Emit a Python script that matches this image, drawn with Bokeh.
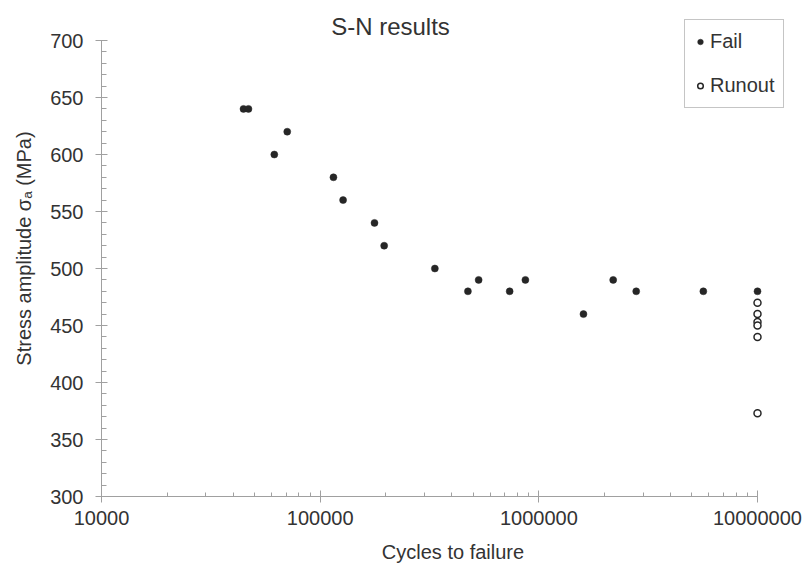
from bokeh.embed import file_html
from bokeh.models import (FixedTicker, Label, Legend, LegendItem,
                          PrintfTickFormatter, Range1d, Title)
from bokeh.plotting import figure
from bokeh.resources import INLINE

# S-N test data: cycles to failure and stress amplitude (MPa)
fail_cycles = [44600, 47000, 61700, 70700, 115000, 127300, 177200, 196200,
               334600, 473900, 530500, 735500, 868000, 1600000, 2188000,
               2788000, 5653000, 10000000]
fail_stress = [640, 640, 600, 620, 580, 560, 540, 520,
               500, 480, 490, 480, 490, 460, 490,
               480, 480, 480]

runout_cycles = [10000000, 10000000, 10000000, 10000000, 10000000, 10000000]
runout_stress = [470, 460, 453, 450, 440, 373]

x_major = [10000, 100000, 1000000, 10000000]
y_major = [300, 350, 400, 450, 500, 550, 600, 650, 700]

FONT = "Liberation Sans"
TEXT = "#333333"
AXIS = "#a0a0a0"
INK = "#262626"

W, H = 804, 564
LEFT, BOTTOM = 101, 68          # space for the axes
X_END_PX, Y_TOP_PX = 757, 40    # where 1e7 and 700 sit on the canvas

x_minor = [m * d for d in x_major[:-1] for m in range(2, 10)]
y_minor = list(range(300, 701, 10))

# The plotting frame runs to the top and right canvas edges so that the title,
# legend and edge markers are not clipped; the axes are bounded to the data span.
px_per_decade = (X_END_PX - LEFT) / 3.0
x_hi = 1e7 * 10 ** ((W - X_END_PX) / px_per_decade)
px_per_mpa = (H - BOTTOM - Y_TOP_PX) / 400.0
y_hi = 700 + Y_TOP_PX / px_per_mpa

p = figure(frame_width=W - LEFT, frame_height=H - BOTTOM, x_axis_type="log",
           x_range=Range1d(1e4, x_hi), y_range=Range1d(300, y_hi),
           output_backend="svg", toolbar_location=None,
           min_border_left=LEFT, min_border_right=0,
           min_border_top=0, min_border_bottom=BOTTOM)

p.background_fill_color = "white"
p.border_fill_color = "white"
p.outline_line_color = None
p.xgrid.visible = False
p.ygrid.visible = False

for ax in (p.xaxis[0], p.yaxis[0]):
    ax.axis_line_color = AXIS
    ax.major_tick_line_color = AXIS
    ax.minor_tick_line_color = AXIS
    ax.major_tick_in = 6
    ax.major_tick_out = 6
    ax.minor_tick_out = 0
    ax.major_label_text_font = FONT
    ax.major_label_text_font_size = "20px"
    ax.major_label_text_color = TEXT

xa = p.xaxis[0]
xa.ticker = FixedTicker(ticks=x_major, minor_ticks=x_minor)
xa.formatter = PrintfTickFormatter(format="%d")
xa.bounds = (1e4, 1e7)
xa.minor_tick_in = 4
xa.major_label_standoff = 8

ya = p.yaxis[0]
ya.ticker = FixedTicker(ticks=y_major, minor_ticks=y_minor)
ya.bounds = (300, 700)
ya.minor_tick_in = 5
ya.major_label_standoff = 12

fail = p.scatter(fail_cycles, fail_stress, marker="circle", size=7,
                 fill_color=INK, line_color=INK, line_width=0.5)
runout = p.scatter(runout_cycles, runout_stress, marker="circle", size=7,
                   fill_color="white", line_color=INK, line_width=1.5)

legend = Legend(items=[LegendItem(label="Fail", renderers=[fail]),
                       LegendItem(label="Runout", renderers=[runout])],
                location=(583, 388), padding=8, spacing=17,
                glyph_width=14, glyph_height=27, label_height=27,
                label_standoff=3, margin=0,
                label_text_font=FONT, label_text_font_size="20px",
                label_text_color=TEXT, border_line_color="#8c8c8c",
                border_line_width=1, background_fill_color="white",
                background_fill_alpha=1)
p.add_layout(legend)

# chart title, inside the top strip of the frame
p.add_layout(Label(text="S-N results", x=289, y=470, x_units="screen",
                   y_units="screen", text_align="center",
                   text_baseline="alphabetic", text_font=FONT,
                   text_font_size="24px", text_color=TEXT))

# axis titles, set outside the tick labels
p.add_layout(Title(text="Cycles to failure", align="center", offset=-40.5,
                   standoff=22, vertical_align="bottom", text_font=FONT,
                   text_font_size="20px", text_font_style="normal",
                   text_color=TEXT), "below")
p.add_layout(Title(text="Stress amplitude σₐ (MPa)", align="center",
                   offset=12, standoff=21, vertical_align="top",
                   text_font=FONT, text_font_size="20px",
                   text_font_style="normal", text_color=TEXT), "left")

open("out.html", "w").write(file_html(p, INLINE))
